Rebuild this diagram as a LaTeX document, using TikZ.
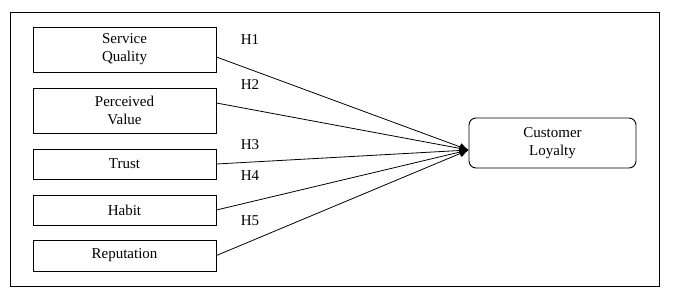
\documentclass[tikz,border=0pt]{standalone}
\usepackage{fontspec}
\setmainfont{Liberation Serif}
\usetikzlibrary{arrows.meta}
\tikzset{
    factor/.style={draw, line width=0.9pt, minimum width=183pt, inner sep=0pt, align=center},
    outcome/.style={draw, line width=0.9pt, rounded corners=7pt, minimum width=167pt, minimum height=50pt, inner sep=0pt, align=center},
    path link/.style={line width=0.8pt, -{Latex[length=9pt,width=8pt]}},
    hyp/.style={inner sep=1pt}
}
\begin{document}
\begin{tikzpicture}[x=1pt, y=-1pt, font=\fontsize{15}{18}\selectfont]
        % --- SETTINGS ---
        \def\boxX{124.5}
        \useasboundingbox[fill=white] (0,0) rectangle (674,292);

        % Outer frame
        \draw[line width=0.9pt] (10,12) rectangle (659,286);

        % =========================================
        % FACTORS (left)
        % =========================================
        \node[factor, minimum height=45pt] (sq) at (\boxX, 49.5) {Service\\Quality};
        \node[factor, minimum height=45pt] (pv) at (\boxX, 110.5) {Perceived\\Value};
        \node[factor, minimum height=30pt] (tr) at (\boxX, 164) {Trust};
        \node[factor, minimum height=30pt] (hb) at (\boxX, 210) {Habit};
        \node[factor, minimum height=31pt] (rp) at (\boxX, 255.5) {Reputation};

        % =========================================
        % OUTCOME (right)
        % =========================================
        \node[outcome] (cl) at (552.5, 143) {Customer\\Loyalty};
        \coordinate (tip) at ([yshift=-7pt]cl.west);

        % Hypotheses labels
        \node[hyp] (h1) at (250, 40) {H1};
        \node[hyp] (h2) at (250, 85) {H2};
        \node[hyp] (h3) at (250, 145) {H3};
        \node[hyp] (h4) at (250, 176) {H4};
        \node[hyp] (h5) at (250, 221) {H5};

        % Paths
        \draw[path link] ([yshift=-7.5pt]sq.east) -- (tip);
        \draw[path link] ([yshift=7.5pt]pv.east) -- (tip);
        \foreach \src in {tr, hb, rp} {
            \draw[path link] (\src.east) -- (tip);
        }
\end{tikzpicture}
\end{document}
